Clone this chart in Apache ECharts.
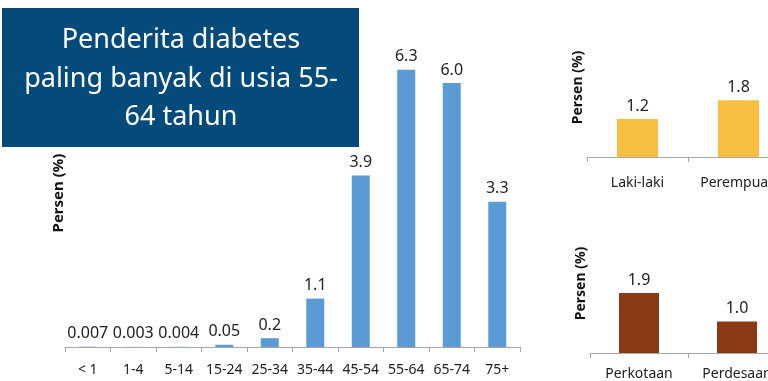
<!DOCTYPE html>
<html>
<head>
<meta charset="utf-8">
<script src="https://cdn.jsdelivr.net/npm/echarts@6/dist/echarts.min.js"></script>
<style>
  html, body { margin: 0; padding: 0; background: #fff; }
  #main { width: 768px; height: 381px; }
</style>
</head>
<body>
<div id="main"></div>
<script>
// kelompok umur
const kelompokUmur = ['< 1', '1-4', '5-14', '15-24', '25-34', '35-44', '45-54', '55-64', '65-74', '75+'];
const persenUmur = [0.007, 0.003, 0.004, 0.05, 0.2, 1.1, 3.9, 6.3, 6.0, 3.3];
const labelUmur = ['0.007', '0.003', '0.004', '0.05', '0.2', '1.1', '3.9', '6.3', '6.0', '3.3'];

// jenis kelamin
const jenisKelamin = ['Laki-laki', 'Perempuan'];
const persenKelamin = [1.2, 1.8];

// tempat tinggal
const tempatTinggal = ['Perkotaan', 'Perdesaan'];
const persenTempat = [1.9, 1.0];

const judul = 'Penderita diabetes\npaling banyak di usia 55-\n64 tahun';

var myChart = echarts.init(document.getElementById('main'));
var font = 'Noto Sans';

function sumbuX(idx, data, margin) {
  return {
    type: 'category',
    gridIndex: idx,
    data: data,
    axisLine: { lineStyle: { color: '#a6a6a6', width: 1 } },
    axisTick: { show: true, length: 5, lineStyle: { color: '#a6a6a6' } },
    axisLabel: { color: '#222', fontFamily: font, fontSize: 14, margin: margin, interval: 0 }
  };
}

function sumbuY(idx, max, gap, size) {
  return {
    type: 'value',
    gridIndex: idx,
    min: 0,
    max: max,
    name: 'Persen (%)',
    nameLocation: 'middle',
    nameRotate: 90,
    nameGap: gap,
    nameTextStyle: { fontFamily: font, fontWeight: 'bold', fontSize: size, color: '#111' },
    axisLine: { show: false },
    axisTick: { show: false },
    axisLabel: { show: false },
    splitLine: { show: false }
  };
}

function label() {
  return {
    show: true, position: 'top', distance: 5,
    fontFamily: font, fontSize: 16, color: '#222'
  };
}

var option = {
  animation: false,
  grid: [
    { left: 65, top: 39, width: 455, height: 308, outerBoundsMode: 'none', containLabel: false },
    { left: 587, top: 18, width: 202, height: 139, outerBoundsMode: 'none', containLabel: false },
    { left: 590, top: 214, width: 196, height: 139, outerBoundsMode: 'none', containLabel: false }
  ],
  xAxis: [
    sumbuX(0, kelompokUmur, 16),
    sumbuX(1, jenisKelamin, 19),
    sumbuX(2, tempatTinggal, 14)
  ],
  yAxis: [
    sumbuY(0, 7, -1, 15),
    sumbuY(1, 4.4, 2, 14),
    sumbuY(2, 4.4, 2, 14)
  ],
  series: [
    {
      type: 'bar',
      xAxisIndex: 0,
      yAxisIndex: 0,
      data: persenUmur,
      barWidth: 18,
      itemStyle: { color: '#5b9bd5' },
      label: Object.assign(label(), { formatter: p => labelUmur[p.dataIndex] })
    },
    {
      type: 'bar',
      xAxisIndex: 1,
      yAxisIndex: 1,
      data: persenKelamin,
      barWidth: 41,
      itemStyle: { color: '#f6bf42' },
      label: Object.assign(label(), { formatter: p => p.value.toFixed(1) })
    },
    {
      type: 'bar',
      xAxisIndex: 2,
      yAxisIndex: 2,
      data: persenTempat,
      barWidth: 40,
      itemStyle: { color: '#8a3a14' },
      label: Object.assign(label(), { formatter: p => p.value.toFixed(1) })
    }
  ],
  graphic: [
    {
      type: 'rect',
      left: 2, top: 8,
      shape: { width: 357, height: 139 },
      style: { fill: '#044a7b' },
      z: 100
    },
    {
      type: 'text',
      x: 181, y: 79,
      style: {
        text: judul,
        fill: '#fff',
        font: '27px "Noto Sans"',
        align: 'center',
        verticalAlign: 'middle',
        lineHeight: 38.5
      },
      z: 101
    }
  ]
};

option && myChart.setOption(option);
</script>
</body>
</html>
